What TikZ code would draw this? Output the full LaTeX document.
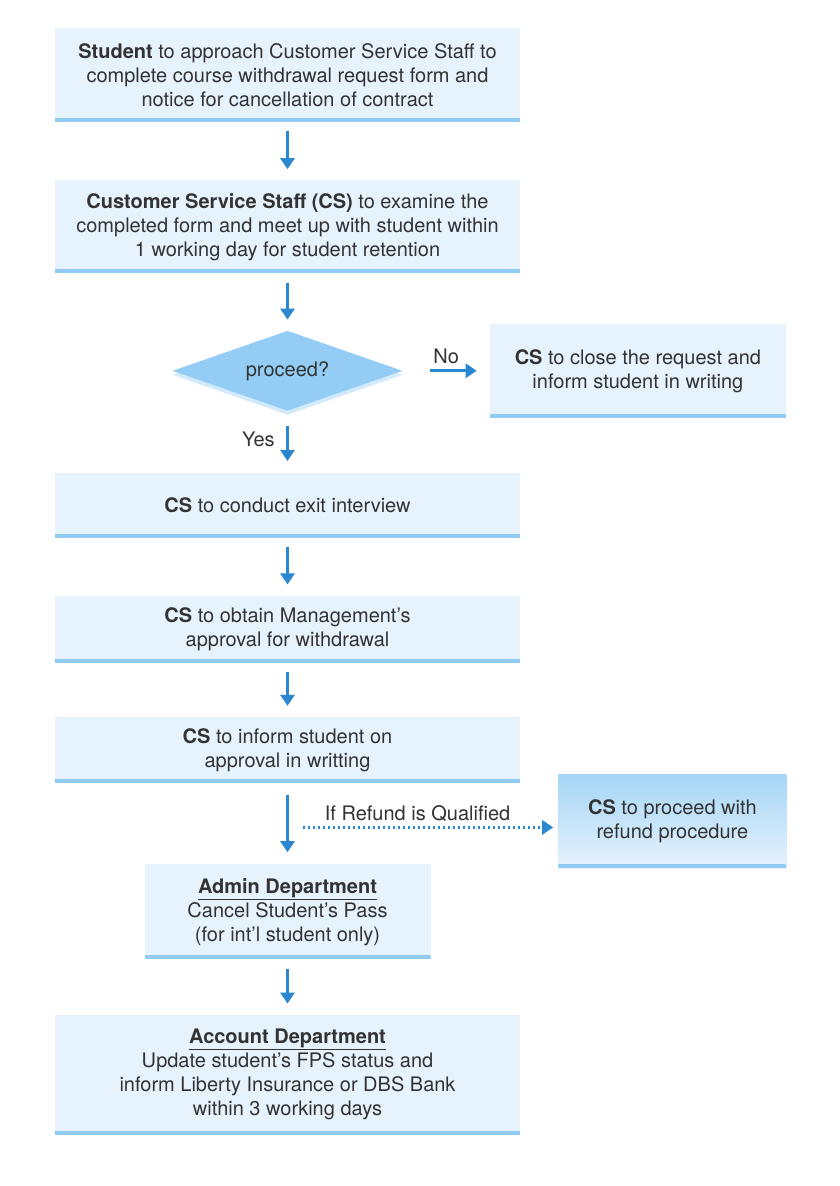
\documentclass[tikz,border=0pt]{standalone}
\usepackage{fontspec}
\setmainfont{TeX Gyre Heros}
\usetikzlibrary{arrows.meta, positioning, shapes.geometric, shadows}
\definecolor{boxfill}{HTML}{E6F2FC}
\definecolor{boxbar}{HTML}{8FCBF3}
\definecolor{refundtop}{HTML}{A6D6F6}
\definecolor{flowblue}{HTML}{2A87D0}
\definecolor{decfill}{HTML}{93CDF5}
\definecolor{decedge}{HTML}{D3EAFB}
\definecolor{textgray}{HTML}{333333}

\begin{document}
\begin{tikzpicture}[
    x=1pt, y=1pt,
    box/.style={
        fill=boxfill,
        align=center,
        inner sep=0pt,
        text=textgray,
        font=\fontsize{20}{24}\selectfont,
        path picture={
            \fill[boxbar] (path picture bounding box.south west)
                rectangle ([yshift=4pt]path picture bounding box.south east);
        }
    },
    decision/.style={
        diamond,
        aspect=2.9,
        fill=decfill,
        minimum width=230pt,
        minimum height=80pt,
        inner sep=0pt,
        text=textgray,
        font=\fontsize{20}{24}\selectfont,
        drop shadow={shadow xshift=0pt, shadow yshift=-4pt, fill=decedge, opacity=1}
    },
    arrow/.style={
        -{Triangle[length=11pt, width=14pt]},
        line width=3pt,
        draw=flowblue,
        shorten <=9pt,
        shorten >=11pt
    },
    dotarrow/.style={
        -{Triangle[length=11pt, width=14pt]},
        line width=3pt,
        draw=flowblue,
        dash pattern=on 2.5pt off 2.5pt,
        shorten >=5pt
    },
    tag/.style={
        text=textgray,
        font=\fontsize{20}{24}\selectfont
    }
]

\path[use as bounding box, fill=white] (0,0) rectangle (840,-1186);

% Nodes
\node (request) [box, minimum width=465pt, minimum height=94pt] at (287.5,-75)
    {\textbf{Student} to approach Customer Service Staff to\\complete course withdrawal request form and\\notice for cancellation of contract};
\node (examine) [box, minimum width=465pt, minimum height=93pt, below=58pt of request]
    {\textbf{Customer Service Staff (CS)} to examine the\\completed form and meet up with student within\\1 working day for student retention};
\node (proceed) [decision, below=57pt of examine] {proceed?};
\node (close) [box, minimum width=296pt, minimum height=94pt, right=87pt of proceed]
    {\textbf{CS} to close the request and\\inform student in writing};
\node (exit) [box, minimum width=465pt, minimum height=65pt, below=62pt of proceed]
    {\textbf{CS} to conduct exit interview};
\node (approval) [box, minimum width=465pt, minimum height=67pt, below=57pt of exit]
    {\textbf{CS} to obtain Management's\\approval for withdrawal};
\node (inform) [box, minimum width=465pt, minimum height=66pt, below=54pt of approval]
    {\textbf{CS} to inform student on\\approval in writting};
\node (refund) [box, top color=refundtop, bottom color=boxfill, minimum width=228pt, minimum height=94pt,
    below right=-9pt and 38pt of inform]
    {\textbf{CS} to proceed with\\refund procedure};
\node (admin) [box, minimum width=286pt, minimum height=95pt, below=81pt of inform]
    {\underline{\textbf{Admin Department}}\\Cancel Student’s Pass\\(for int’l student only)};
\node (account) [box, minimum width=465pt, minimum height=120pt, below=55pt of admin]
    {\underline{\textbf{Account Department}}\\Update student’s FPS status and\\inform Liberty Insurance or DBS Bank\\within 3 working days};

\path (inform.south |- refund.west) ++(15,-6) coordinate (fork);

% Paths
\draw [arrow] (request) -- (examine);
\draw [arrow] (examine) -- (proceed);
\draw [arrow, shorten <=27pt, shorten >=13pt] (proceed.east) -- node[tag, above=2pt, pos=0.5] {No} (close.west);
\draw [arrow, shorten <=15pt, shorten >=12pt] (proceed.south) -- node[tag, left=8pt, pos=0.45] {Yes} (exit.north);
\draw [arrow] (exit) -- (approval);
\draw [arrow] (approval) -- (inform);
\draw [arrow, shorten <=12pt, shorten >=12pt] (inform) -- (admin);
\draw [dotarrow] (fork) -- node[tag, above=1pt, pos=0.45] {If Refund is Qualified} (fork -| refund.west);
\draw [arrow] (admin) -- (account);

\end{tikzpicture}
\end{document}
